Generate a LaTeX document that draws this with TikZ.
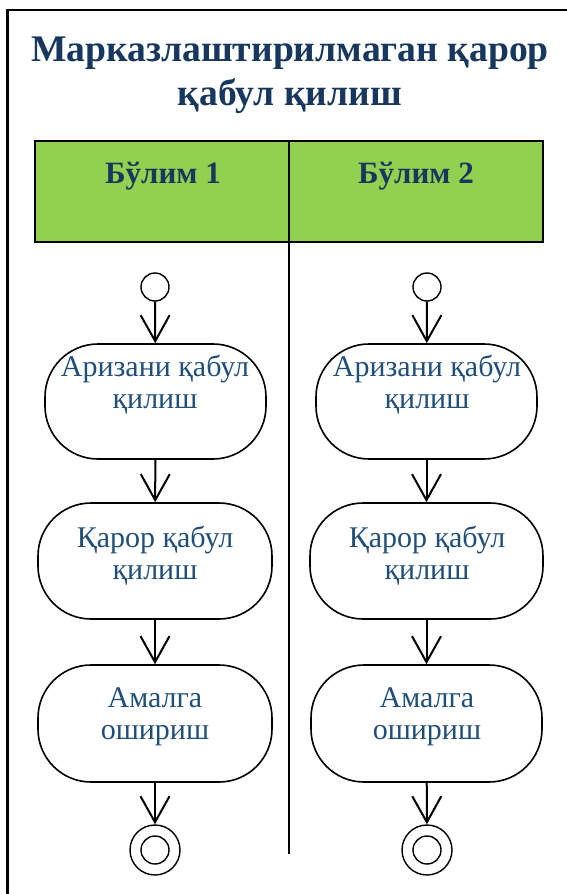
\documentclass[tikz,border=0pt]{standalone}
\usepackage{fontspec}
\setmainfont{Liberation Serif}
\usetikzlibrary{arrows.meta}
\definecolor{titleblue}{HTML}{17375E}
\definecolor{textblue}{HTML}{1F4E79}
\definecolor{hdrgreen}{HTML}{92D050}
\begin{document}
\begin{tikzpicture}[x=1pt,y=-1pt,
  act/.style={draw, line width=1.6pt, rounded corners=53pt, minimum width=#1, minimum height=116pt, inner sep=0pt},
  acttext/.style={text=textblue, font=\fontsize{30}{32}\selectfont, align=center, inner sep=0pt},
  startnode/.style={draw, circle, line width=1.4pt, minimum size=28pt, inner sep=0pt},
  endouter/.style={draw, circle, line width=1.4pt, minimum size=50pt, inner sep=0pt},
  endinner/.style={draw, circle, line width=1.4pt, minimum size=28pt, inner sep=0pt},
  flow/.style={line width=2pt, -{Straight Barb[length=26pt,width=29pt,line width=2pt]}},
  hdr/.style={text=titleblue, font=\bfseries\fontsize{31}{34}\selectfont, inner sep=0pt, anchor=base}
]
\useasboundingbox (0,0) rectangle (567,894);
% outer frame
\draw[line width=2.2pt] (7.5,10) rectangle (640,960);
% title
\node[text=titleblue, font=\bfseries\fontsize{37.6}{44}\selectfont, align=center, inner sep=0pt] (title) at (290,75)
  {Марказлаштирилмаган қарор\\қабул қилиш};
% header
\node[draw, line width=1.5pt, fill=hdrgreen, minimum width=508pt, minimum height=101pt, inner sep=0pt] (header) at (289,191.5) {};
\coordinate (divtop) at (289,141);
\coordinate (divbot) at (289,854);
\draw[line width=1.5pt] (divtop) -- (divbot);
\node[hdr] (h1) at (163,183) {Бўлим 1};
\node[hdr] (h2) at (416,183) {Бўлим 2};
% column 1
\node[startnode] (s1) at (155,287) {};
\node[act=221pt, minimum height=115pt] (a1) at (155.5,401.5) {};
\node[acttext] (a1t) at (155,385) {Аризани қабул\\қилиш};
\node[act=234pt] (b1) at (155,561) {};
\node[acttext] (b1t) at (155,556) {Қарор қабул\\қилиш};
\node[act=234pt, minimum height=117pt] (c1) at (155,723.5) {};
\node[acttext] (c1t) at (155,717) {Амалга\\ошириш};
\node[endouter] (e1) at (155,850) {};
\node[endinner] (e1i) at (155,850) {};
\draw[flow] (s1) -- (a1);
\draw[flow] (a1) -- (b1);
\draw[flow] (b1) -- (c1);
\draw[flow] (c1) -- (e1);
% column 2
\node[startnode] (s2) at (427,287) {};
\node[act=221pt, minimum height=115pt] (a2) at (426.5,401.5) {};
\node[acttext] (a2t) at (427,385) {Аризани қабул\\қилиш};
\node[act=233pt] (b2) at (426.5,561) {};
\node[acttext] (b2t) at (427,556) {Қарор қабул\\қилиш};
\node[act=231pt, minimum height=117pt] (c2) at (426.5,723.5) {};
\node[acttext] (c2t) at (427,717) {Амалга\\ошириш};
\node[endouter] (e2) at (427,850) {};
\node[endinner] (e2i) at (427,850) {};
\draw[flow] (s2) -- (a2);
\draw[flow] (a2) -- (b2);
\draw[flow] (b2) -- (c2);
\draw[flow] (c2) -- (e2);
\end{tikzpicture}
\end{document}
